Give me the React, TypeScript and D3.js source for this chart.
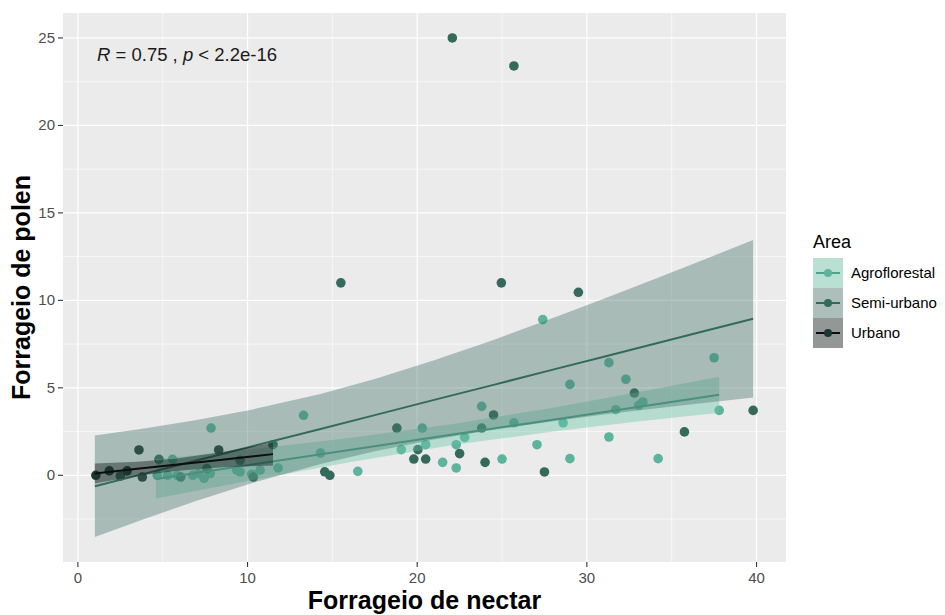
import * as d3 from 'd3';

// categories
const areas = ['Agroflorestal', 'Semi-urbano', 'Urbano'];

// points (nectar, pollen) per area
const agroX = [27.4, 37.5, 31.3, 32.3, 29.0, 33.3, 33.06, 37.8, 31.7, 25.7, 28.6, 27.06, 31.3, 29.0, 34.2, 23.8, 20.3, 19.06, 20.5, 21.5, 22.3, 22.8, 22.3, 25.0, 13.3, 14.3, 11.8, 16.5, 7.85, 5.58, 4.68, 5.3, 5.86, 6.77, 7.1, 7.8, 7.43, 9.36, 9.56, 10.25, 10.74];
const agroY = [8.9, 6.72, 6.44, 5.49, 5.2, 4.19, 4.0, 3.71, 3.75, 3.0, 3.0, 1.75, 2.19, 0.95, 0.95, 3.94, 2.7, 1.47, 1.75, 0.74, 1.75, 2.17, 0.42, 0.93, 3.43, 1.27, 0.42, 0.23, 2.7, 0.91, 0, 0, 0, 0, 0.1, 0.1, -0.17, 0.29, 0.19, 0.06, 0.29];
const semiX = [22.07, 25.7, 15.5, 24.96, 29.5, 32.8, 39.8, 35.75, 27.5, 18.8, 24.5, 23.8, 20.04, 19.8, 20.5, 22.5, 24.0, 14.55, 14.85, 11.5, 4.78, 2.5, 6.06, 7.6, 10.34, 9.56];
const semiY = [25.0, 23.4, 11.0, 11.0, 10.46, 4.7, 3.71, 2.48, 0.19, 2.7, 3.45, 2.7, 1.47, 0.93, 0.93, 1.24, 0.74, 0.2, 0.0, 1.75, 0.91, -0.04, -0.1, 0.38, -0.1, 0.86];
const urbX = [1.06, 1.85, 2.9, 3.6, 3.8, 8.3];
const urbY = [0, 0.25, 0.25, 1.45, -0.1, 1.45];

// linear smooth with confidence band
const agroFitX = [4.6, 10, 16, 22.2, 28, 33, 37.8];
const agroFit = [-0.21, 0.57, 1.44, 2.34, 3.18, 3.9, 4.6];
const agroLo = [-1.33, -0.32, 0.75, 1.74, 2.5, 3.07, 3.57];
const agroHi = [0.91, 1.46, 2.13, 2.94, 3.86, 4.74, 5.63];
const semiFitX = [1, 4, 7, 10, 14.3, 17.5, 21, 24.5, 28, 31, 34, 37, 39.8];
const semiFit = [-0.63, 0.11, 0.85, 1.59, 2.65, 3.44, 4.31, 5.17, 6.04, 6.78, 7.52, 8.26, 8.95];
const semiLo = [-3.53, -2.47, -1.46, -0.52, 0.65, 1.38, 2.05, 2.6, 3.09, 3.47, 3.82, 4.15, 4.45];
const semiHi = [2.27, 2.69, 3.16, 3.7, 4.65, 5.51, 6.57, 7.74, 8.99, 10.09, 11.22, 12.37, 13.45];
const urbFitX = [1, 3.5, 5.74, 8.5, 11.5];
const urbFit = [0.1, 0.37, 0.6, 0.89, 1.21];
const urbLo = [-0.47, -0.04, 0.25, 0.46, 0.56];
const urbHi = [0.68, 0.78, 0.95, 1.33, 1.86];

const xTicks = [0, 10, 20, 30, 40];
const yTicks = [0, 5, 10, 15, 20, 25];

const pointColor = ['#5db39e', '#35695a', '#1c3630'];
const lineColor = ['#4fa38d', '#336b5a', '#0d0d0d'];
const ribbonColor = ['#66c2a5', '#467366', '#05100c'];

const font = '"Liberation Sans", Arial, sans-serif';

const groups = [
  { pts: d3.zip(agroX, agroY), fx: agroFitX, fit: agroFit, lo: agroLo, hi: agroHi },
  { pts: d3.zip(semiX, semiY), fx: semiFitX, fit: semiFit, lo: semiLo, hi: semiHi },
  { pts: d3.zip(urbX, urbY), fx: urbFitX, fit: urbFit, lo: urbLo, hi: urbHi },
];

export default function App() {
  const W = 945;
  const H = 615;
  const panel = { left: 63, right: 786, top: 13, bottom: 562 };

  // ggplot-style 5% expansion of the data range
  const allX = [...agroX, ...semiX, ...urbX];
  const allY = [...agroY, ...semiY, ...urbY, ...agroLo, ...semiLo, ...urbLo, ...agroHi, ...semiHi, ...urbHi];
  const [x0, x1] = d3.extent(allX) as [number, number];
  const [y0, y1] = d3.extent(allY) as [number, number];
  const ex = (x1 - x0) * 0.05;
  const ey = (y1 - y0) * 0.05;

  const x = d3.scaleLinear().domain([x0 - ex, x1 + ex]).range([panel.left, panel.right]);
  const y = d3.scaleLinear().domain([y0 - ey, y1 + ey]).range([panel.bottom, panel.top]);

  const xMinor = d3.range(5, 45, 10).filter((v) => x(v) < panel.right);
  const yMinor = d3.range(-2.5, 27.5, 5).filter((v) => y(v) > panel.top && y(v) < panel.bottom);

  const ribbonPath = (g: (typeof groups)[number]) =>
    d3
      .area<number>()
      .x((d) => x(d))
      .y0((_, i) => y(g.lo[i]))
      .y1((_, i) => y(g.hi[i]))(g.fx) ?? '';
  const fitPath = (g: (typeof groups)[number]) =>
    d3
      .line<number>()
      .x((d) => x(d))
      .y((_, i) => y(g.fit[i]))(g.fx) ?? '';

  const legendX = 813;
  const keyTop = 258;
  const keyH = 30;

  return (
    <svg width={W} height={H} style={{ position: 'absolute', left: 0, top: 0, background: '#fff' }} fontFamily={font}>
      <rect x={panel.left} y={panel.top} width={panel.right - panel.left} height={panel.bottom - panel.top} fill="#EBEBEB" />
      {xMinor.map((v) => (
        <line key={'xm' + v} x1={x(v)} x2={x(v)} y1={panel.top} y2={panel.bottom} stroke="#fff" strokeWidth={0.6} />
      ))}
      {yMinor.map((v) => (
        <line key={'ym' + v} x1={panel.left} x2={panel.right} y1={y(v)} y2={y(v)} stroke="#fff" strokeWidth={0.6} />
      ))}
      {xTicks.map((v) => (
        <line key={'xg' + v} x1={x(v)} x2={x(v)} y1={panel.top} y2={panel.bottom} stroke="#fff" strokeWidth={1.2} />
      ))}
      {yTicks.map((v) => (
        <line key={'yg' + v} x1={panel.left} x2={panel.right} y1={y(v)} y2={y(v)} stroke="#fff" strokeWidth={1.2} />
      ))}

      {groups.map((g, gi) =>
        g.pts.map(([px, py], i) => (
          <circle key={`p${gi}-${i}`} cx={x(px)} cy={y(py)} r={4.8} fill={pointColor[gi]} />
        ))
      )}

      {groups.map((g, gi) => (
        <g key={'s' + gi}>
          <path d={ribbonPath(g)} fill={ribbonColor[gi]} fillOpacity={0.4} />
          <path d={fitPath(g)} fill="none" stroke={lineColor[gi]} strokeWidth={2} />
        </g>
      ))}

      <text x={97} y={61} fontSize={18.5} fill="#1a1a1a">
        <tspan fontStyle="italic">R</tspan>
        {' = 0.75 , '}
        <tspan fontStyle="italic">p</tspan>
        {' < 2.2e-16'}
      </text>

      {xTicks.map((v) => (
        <g key={'xt' + v}>
          <line x1={x(v)} x2={x(v)} y1={panel.bottom} y2={panel.bottom + 5} stroke="#333" strokeWidth={1.1} />
          <text x={x(v)} y={panel.bottom + 21} textAnchor="middle" fontSize={15} fill="#4d4d4d">
            {v}
          </text>
        </g>
      ))}
      {yTicks.map((v) => (
        <g key={'yt' + v}>
          <line x1={panel.left - 5} x2={panel.left} y1={y(v)} y2={y(v)} stroke="#333" strokeWidth={1.1} />
          <text x={panel.left - 8} y={y(v) + 5} textAnchor="end" fontSize={15} fill="#4d4d4d">
            {v}
          </text>
        </g>
      ))}

      <text x={(panel.left + panel.right) / 2} y={609} textAnchor="middle" fontSize={25} fontWeight="bold" fill="#000">
        Forrageio de nectar
      </text>
      <text
        transform={`translate(30,${(panel.top + panel.bottom) / 2}) rotate(-90)`}
        textAnchor="middle"
        fontSize={25}
        fontWeight="bold"
        fill="#000"
      >
        Forrageio de polen
      </text>

      <text x={legendX} y={248} fontSize={18} fill="#000">
        Area
      </text>
      {areas.map((a, i) => {
        const ky = keyTop + i * keyH;
        return (
          <g key={a}>
            <rect x={legendX} y={ky} width={30} height={keyH} fill="#F2F2F2" />
            <rect x={legendX} y={ky} width={30} height={keyH} fill={ribbonColor[i]} fillOpacity={0.4} />
            <line x1={legendX + 3} x2={legendX + 27} y1={ky + keyH / 2} y2={ky + keyH / 2} stroke={lineColor[i]} strokeWidth={2} />
            <circle cx={legendX + 15} cy={ky + keyH / 2} r={4} fill={pointColor[i]} />
            <text x={legendX + 38} y={ky + keyH / 2 + 5} fontSize={15} fill="#000">
              {a}
            </text>
          </g>
        );
      })}
    </svg>
  );
}
